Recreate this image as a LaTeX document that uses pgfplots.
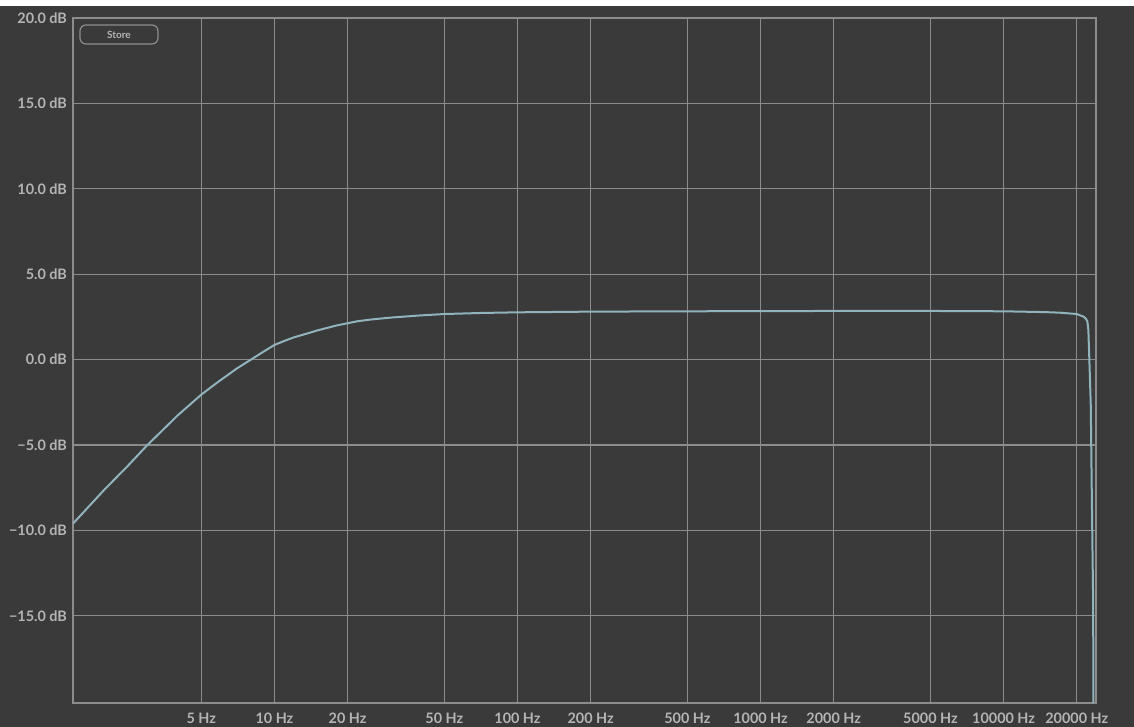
\documentclass[border=0pt]{standalone}
\usepackage{pgfplots}
\pgfplotsset{compat=1.18}
\usepackage{fontspec}
\setmainfont{Lato}

\definecolor{panel}{HTML}{3A3A3A}
\definecolor{gridc}{HTML}{8C8C8C}
\definecolor{labelc}{HTML}{B4B4B4}
\definecolor{curve}{HTML}{90B3BE}

\begin{document}
\begin{tikzpicture}
% 1 px of the reference = 0.5pt
\useasboundingbox (-36.5pt,-12pt) rectangle (530.5pt,351.5pt);
\fill[panel] (-36.5pt,-12pt) rectangle (530.5pt,351.5pt);
\fill[white] (-36.5pt,348.5pt) rectangle (530.5pt,351.5pt);
\begin{axis}[
    at={(0,0)}, anchor=south west,
    scale only axis,
    width=511.5pt, height=342.5pt,
    xmode=log,
    xmin=1.483, xmax=24000,
    ymin=-20.1, ymax=20,
    xtick={5,10,20,50,100,200,500,1000,2000,5000,10000,20000},
    xticklabels={5 Hz,10 Hz,20 Hz,50 Hz,100 Hz,200 Hz,500 Hz,1000 Hz,2000 Hz,5000 Hz,10000 Hz,20000 Hz},
    ytick={-15,-10,-5,0,5,10,15,20},
    yticklabels={−15.0 dB,−10.0 dB,−5.0 dB,0.0 dB,5.0 dB,10.0 dB,15.0 dB,20.0 dB},
    minor tick num=0,
    major tick length=0pt,
    grid=major,
    grid style={gridc, line width=0.6pt},
    axis line style={gridc, line width=0.7pt},
    tick label style={labelc, font=\fontsize{7.2}{8}\selectfont\bfseries},
    yticklabel style={xshift=0.5pt},
    xticklabel style={yshift=-1.5pt},
    clip=true,
]
\addplot[curve, line width=1pt] coordinates {
    (1.483,-9.6) (2,-7.6) (2.5,-6.2) (3,-5.0) (3.5,-4.07) (4,-3.26)
    (4.5,-2.62) (5,-2.05) (5.5,-1.6) (6,-1.2) (6.5,-0.85) (7,-0.52)
    (7.5,-0.25) (8,0.0) (9,0.46) (10,0.86) (11,1.1) (12,1.3) (13.1,1.46)
    (14,1.58) (15,1.71) (16.4,1.85) (18,2.0) (20,2.13) (22,2.25)
    (25,2.35) (30,2.46) (40,2.59) (50,2.67) (70,2.73) (100,2.77)
    (200,2.81) (500,2.83) (1000,2.84) (2000,2.85) (5000,2.85)
    (10000,2.83) (15000,2.78) (17000,2.75) (20000,2.67) (21290,2.52)
    (21800,2.4) (22115,2.24) (22320,1.75) (22530,0.0) (22830,-2.6)
    (23180,-10.5) (23350,-14.0) (23440,-21.0)
};
\end{axis}
\draw[gridc, line width=0.6pt, rounded corners=3pt] (3.5pt,329.5pt) rectangle (42.5pt,339pt);
\node[labelc, font=\fontsize{5}{6}\selectfont\bfseries] at (23pt,334.25pt) {Store};
\end{tikzpicture}
\end{document}
